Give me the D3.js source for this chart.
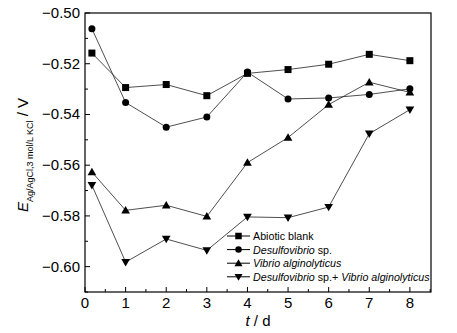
<!DOCTYPE html>
<html><head><meta charset="utf-8">
<script src="https://cdn.jsdelivr.net/npm/d3@7"></script>
<style>body{margin:0;background:#fff}svg{display:block}text{font-family:"Liberation Sans",Arial,sans-serif;fill:#000}</style>
</head><body>
<script>
// Open-circuit potential over time for four media
const days = [0.17, 1, 2, 3, 4, 5, 6, 7, 8];
const abioticBlank = [-0.5158, -0.5294, -0.5282, -0.5326, -0.5238, -0.5223, -0.5202, -0.5163, -0.5188];
const desulfovibrio = [-0.5062, -0.5353, -0.5450, -0.5410, -0.5233, -0.5339, -0.5335, -0.5321, -0.5299];
const vibrio = [-0.5627, -0.5778, -0.5758, -0.5802, -0.5590, -0.5491, -0.5361, -0.5273, -0.5313];
const mixed = [-0.5679, -0.5982, -0.5891, -0.5936, -0.5804, -0.5807, -0.5765, -0.5476, -0.5381];
const xTicks = [0, 1, 2, 3, 4, 5, 6, 7, 8];
const yTicks = [-0.60, -0.58, -0.56, -0.54, -0.52, -0.50];

const W = 457, H = 333;
const m = {left: 85, right: 431, top: 13, bottom: 292};
const svg = d3.select("body").append("svg").attr("width", W).attr("height", H);

const x = d3.scaleLinear().domain([0, 8.52]).range([m.left, m.right]);
const y = d3.scaleLinear().domain([-0.61, -0.50]).range([m.bottom, m.top]);

// frame
svg.append("rect").attr("x", m.left).attr("y", m.top)
  .attr("width", m.right - m.left).attr("height", m.bottom - m.top)
  .attr("fill", "none").attr("stroke", "#000").attr("stroke-width", 1.2);

// inward ticks
const xMinor = d3.range(0, 8.51, 0.5);
svg.append("g").selectAll("line").data(xMinor).join("line")
  .attr("x1", d => x(d)).attr("x2", d => x(d))
  .attr("y1", m.bottom).attr("y2", d => m.bottom - (Number.isInteger(d) ? 5 : 3))
  .attr("stroke", "#000").attr("stroke-width", 1);
const yMinor = d3.range(-0.61, -0.4995, 0.01);
svg.append("g").selectAll("line").data(yMinor).join("line")
  .attr("x1", m.left).attr("x2", d => m.left + (Math.abs(Math.round(d * 100)) % 2 === 0 ? 5 : 3))
  .attr("y1", d => y(d)).attr("y2", d => y(d))
  .attr("stroke", "#000").attr("stroke-width", 1);

// tick labels
svg.append("g").selectAll("text").data(xTicks).join("text")
  .attr("x", d => x(d)).attr("y", 308).attr("text-anchor", "middle")
  .attr("font-size", 15).text(d => d);
svg.append("g").selectAll("text").data(yTicks).join("text")
  .attr("x", 80).attr("y", d => y(d) + 5).attr("text-anchor", "end")
  .attr("font-size", 15).text(d => d3.format(".2f")(d));

// axis titles
const xl = svg.append("text").attr("x", 258).attr("y", 326).attr("text-anchor", "middle").attr("font-size", 15);
xl.append("tspan").attr("font-style", "italic").text("t");
xl.append("tspan").text(" / d");

const yl = svg.append("text").attr("transform", "translate(28,155) rotate(-90)")
  .attr("text-anchor", "middle").attr("font-size", 15);
yl.append("tspan").attr("font-style", "italic").text("E");
yl.append("tspan").attr("font-size", 9).attr("dy", 5).text("Ag/AgCl,3 mol/L KCl");
yl.append("tspan").attr("dy", -5).text(" / V");

// series
const series = [
  {name: "abiotic", vals: abioticBlank, shape: "square"},
  {name: "desulfo", vals: desulfovibrio, shape: "circle"},
  {name: "vibrio", vals: vibrio, shape: "up"},
  {name: "mixed", vals: mixed, shape: "down"}
];

function marker(g, shape, s) {
  if (shape === "square") g.append("rect").attr("x", -s/2).attr("y", -s/2).attr("width", s).attr("height", s);
  else if (shape === "circle") g.append("circle").attr("r", s/2);
  else if (shape === "up") g.append("path").attr("d", `M0,${-s*0.62}L${s*0.62},${s*0.45}L${-s*0.62},${s*0.45}Z`);
  else g.append("path").attr("d", `M0,${s*0.62}L${s*0.62},${-s*0.45}L${-s*0.62},${-s*0.45}Z`);
}

const line = d3.line().x((d, i) => x(days[i])).y(d => y(d));
series.forEach(s => {
  svg.append("path").datum(s.vals).attr("d", line)
    .attr("fill", "none").attr("stroke", "#222").attr("stroke-width", 0.8);
});
series.forEach(s => {
  s.vals.forEach((v, i) => {
    const g = svg.append("g").attr("transform", `translate(${x(days[i])},${y(v)})`).attr("fill", "#000");
    marker(g, s.shape, 7);
  });
});

// legend
const legend = [
  {shape: "square", parts: [["Abiotic blank", false]]},
  {shape: "circle", parts: [["Desulfovibrio", true], [" sp.", false]]},
  {shape: "up", parts: [["Vibrio alginolyticus", true]]},
  {shape: "down", parts: [["Desulfovibrio", true], [" sp.+ ", false], ["Vibrio alginolyticus", true]]}
];
legend.forEach((l, i) => {
  const ly = 236 + i * 13.6;
  svg.append("line").attr("x1", 227).attr("x2", 250).attr("y1", ly).attr("y2", ly)
    .attr("stroke", "#000").attr("stroke-width", 1);
  const g = svg.append("g").attr("transform", `translate(238.5,${ly})`).attr("fill", "#000");
  marker(g, l.shape, 6.5);
  const t = svg.append("text").attr("x", 253).attr("y", ly + 4).attr("font-size", 10.7);
  l.parts.forEach(p => t.append("tspan").attr("font-style", p[1] ? "italic" : "normal").text(p[0]));
});
</script>
</body></html>
